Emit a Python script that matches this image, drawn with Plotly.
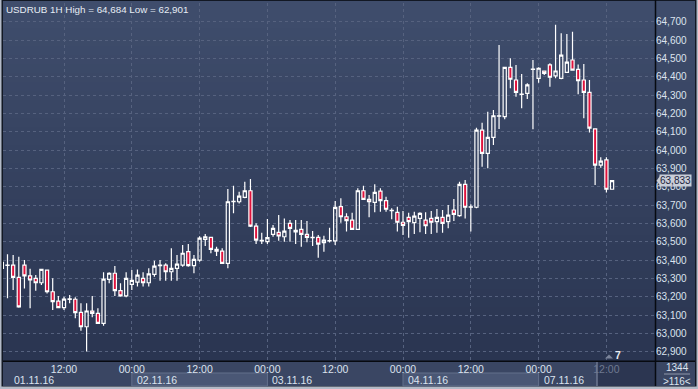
import plotly.graph_objects as go

# ---------------- data ----------------
day_hours = [("01.11", range(1, 24)), ("02.11", range(24)), ("03.11", range(24)),
             ("04.11", range(24)), ("07.11", range(14))]
times = [f"{d} {h:02d}:00" for d, hrs in day_hours for h in hrs]

opens = [63354, 63371, 63372, 63305, 63372, 63314, 63300, 63276, 63345, 63227,
         63176, 63140, 63185, 63186, 63115, 63036, 63122, 63109, 63055, 63295,
         63328, 63233, 63204, 63267, 63280, 63300, 63276, 63322, 63370, 63372,
         63336, 63355, 63372, 63446, 63369, 63400, 63513, 63524, 63458, 63449,
         63382, 63718, 63718, 63742, 63778, 63585, 63505, 63500, 63540, 63551,
         63527, 63600, 63553, 63567, 63540, 63522, 63524, 63495, 63504, 63504,
         63691, 63636, 63618, 63567, 63778, 63731, 63715, 63776, 63724, 63671,
         63660, 63606, 63633, 63604, 63627, 63618, 63627, 63609, 63633, 63609,
         63673, 63642, 63813, 63688, 63688, 64109, 63982, 64069, 64185, 64182,
         64451, 64382, 64305, 64309, 64440, 64391, 64431, 64464, 64405, 64391,
         64424, 64491, 64440, 64382, 64315, 64115, 63918, 63946, 63786]
highs = [63400, 63432, 63427, 63418, 63400, 63352, 63318, 63350, 63346, 63300,
         63204, 63200, 63209, 63197, 63164, 63164, 63204, 63137, 63333, 63333,
         63367, 63273, 63333, 63345, 63349, 63333, 63355, 63396, 63400, 63382,
         63464, 63427, 63482, 63487, 63427, 63530, 63542, 63527, 63473, 63464,
         63787, 63805, 63773, 63827, 63842, 63600, 63549, 63624, 63591, 63645,
         63627, 63618, 63618, 63618, 63613, 63558, 63536, 63533, 63576, 63722,
         63737, 63655, 63658, 63791, 63805, 63755, 63813, 63791, 63745, 63682,
         63691, 63667, 63658, 63664, 63660, 63660, 63667, 63678, 63673, 63700,
         63733, 63827, 63836, 63704, 64122, 64149, 64209, 64218, 64573, 64451,
         64500, 64464, 64415, 64364, 64491, 64451, 64433, 64473, 64684, 64637,
         64633, 64645, 64467, 64469, 64382, 64116, 63960, 63960, 63836]
lows = [63340, 63191, 63236, 63140, 63245, 63137, 63233, 63264, 63218, 63127,
        63137, 63127, 63164, 63082, 63014, 62901, 63088, 63051, 63042, 63273,
        63204, 63200, 63197, 63236, 63255, 63255, 63255, 63309, 63287, 63287,
        63287, 63287, 63364, 63364, 63328, 63390, 63477, 63437, 63422, 63378,
        63355, 63655, 63709, 63737, 63580, 63487, 63487, 63487, 63527, 63505,
        63500, 63500, 63487, 63473, 63497, 63477, 63413, 63445, 63495, 63482,
        63604, 63555, 63565, 63565, 63729, 63633, 63660, 63664, 63664, 63622,
        63555, 63536, 63522, 63542, 63551, 63542, 63542, 63549, 63549, 63573,
        63613, 63636, 63627, 63555, 63682, 63909, 63900, 64027, 64115, 64168,
        64337, 64291, 64228, 64278, 64113, 64367, 64409, 64345, 64391, 64386,
        64422, 64433, 64304, 64173, 64095, 63809, 63904, 63769, 63786]
closes = [63387, 63373, 63305, 63145, 63314, 63291, 63276, 63349, 63227, 63173,
          63140, 63187, 63188, 63113, 63036, 63122, 63109, 63055, 63296, 63328,
          63233, 63204, 63300, 63289, 63318, 63276, 63324, 63367, 63372, 63336,
          63355, 63378, 63437, 63369, 63404, 63519, 63527, 63458, 63448, 63382,
          63718, 63720, 63749, 63778, 63585, 63509, 63507, 63522, 63573, 63531,
          63558, 63573, 63562, 63540, 63524, 63524, 63487, 63509, 63506, 63687,
          63636, 63615, 63567, 63778, 63731, 63718, 63769, 63724, 63677, 63669,
          63606, 63589, 63609, 63640, 63655, 63587, 63606, 63633, 63600, 63645,
          63649, 63813, 63688, 63690, 64109, 63982, 64069, 64187, 64187, 64451,
          64386, 64315, 64303, 64355, 64442, 64446, 64418, 64397, 64431, 64518,
          64479, 64436, 64378, 64315, 64119, 63918, 63940, 63786, 63833]

tick_vals = ["01.11 12:00", "02.11 00:00", "02.11 12:00", "03.11 00:00", "03.11 12:00",
             "04.11 00:00", "04.11 12:00", "07.11 00:00", "07.11 12:00"]
tick_text = ["12:00", "00:00", "12:00", "00:00", "12:00", "00:00", "12:00", "00:00",
             "<span style='color:#6f7990'>12:00</span>"]
date_labels = ["01.11.16", "02.11.16", "03.11.16", "04.11.16", "07.11.16"]
date_anchor = [None, "02.11 00:00", "03.11 00:00", "04.11 00:00", "07.11 00:00"]
price_ticks = list(range(62900, 64701, 100))
title_text = "USDRUB 1H High = 64,684 Low = 62,901"
last_price = 63833
last_price_text = "63,833"

# ---------------- geometry helpers (decoration only) ----------------
WIDTH, HEIGHT = 698, 389
L, R, T, B = 3, 43, 3, 28
PW, PH = WIDTH - L - R, HEIGHT - T - B


def PX(x):
    return (x - L) / PW


def PY(y):
    return (T + PH - y) / PH


def rect(x0, y0, x1, y1, fill, line=None, lw=0):
    return dict(type="rect", xref="paper", yref="paper", layer="below",
                x0=PX(x0), x1=PX(x1), y0=PY(y1), y1=PY(y0),
                fillcolor=fill, line=dict(color=line or fill, width=lw))


def hline(x0, x1, y, color, w=1):
    return dict(type="line", xref="paper", yref="paper", layer="below",
                x0=PX(x0), x1=PX(x1), y0=PY(y), y1=PY(y), line=dict(color=color, width=w))


def vline(x, y0, y1, color, w=1):
    return dict(type="line", xref="paper", yref="paper", layer="below",
                x0=PX(x), x1=PX(x), y0=PY(y0), y1=PY(y1), line=dict(color=color, width=w))


shapes = [rect(1.5, 0, 696.5, 386.5, "#121824")]

# vertical gradient background for plot + price panel
top_c = (63, 77, 108)
bot_c = (42, 53, 81)
nb = 40
y_top, y_bot = 1, 361
for k in range(nb):
    t = k / (nb - 1)
    c = tuple(int(round(top_c[j] + (bot_c[j] - top_c[j]) * t)) for j in range(3))
    ya = y_top + (y_bot - y_top) * k / nb
    yb = y_top + (y_bot - y_top) * (k + 1) / nb + 0.6
    shapes.append(rect(3, ya, 695, min(yb, y_bot), "rgb(%d,%d,%d)" % c))

# bottom time panel
shapes.append(rect(3, 361, 695, 386, "#3a4663"))

cat_index = {t: i for i, t in enumerate(times)}
xr0, xr1 = 0.204, 115.6


def idx_px(i):
    return L + (i - xr0) * PW / (xr1 - xr0)


for lab, anc in zip(date_labels, date_anchor):
    if lab in ("02.11.16", "04.11.16"):
        i0 = cat_index[anc]
        nxt = date_anchor[date_labels.index(lab) + 1]
        i1 = cat_index[nxt]
        shapes.append(rect(idx_px(i0), 373, idx_px(i1), 386, "#4a5775", "#63708c", 1))

# dark region at far right of the time panel
shapes.append(rect(597, 362, 655, 386, "#2c3651"))
shapes.append(vline(597, 362, 386, "#6d7790", 1.5))

# separators
shapes.append(hline(3, 695, 361.3, "#070a10", 1.5))
shapes.append(vline(655.5, 0, 386, "#070a10", 1.5))
shapes.append(hline(664, 690, 374, "#8e97ab", 1))

# small triangle marker near the "7"
shapes.append(dict(type="path", xref="paper", yref="paper", layer="above",
                   path="M %f %f L %f %f L %f %f Z" % (PX(605), PY(358.5), PX(613), PY(358.5), PX(609), PY(354.5)),
                   fillcolor="#7b849a", line=dict(width=0)))
# arrow tip of price label
shapes.append(dict(type="path", xref="paper", yref="y", layer="above",
                   path="M %f %f L %f %f L %f %f Z" % (PX(656.5), last_price, PX(660), last_price + 25,
                                                       PX(660), last_price - 25),
                   fillcolor="#c9ced8", line=dict(width=0)))

fig = go.Figure()
fig.add_trace(go.Candlestick(
    x=times, open=opens, high=highs, low=lows, close=closes,
    increasing=dict(line=dict(color="#ffffff", width=1.2), fillcolor="rgba(0,0,0,0)"),
    decreasing=dict(line=dict(color="#ffffff", width=1.2), fillcolor="#e0123c"),
    whiskerwidth=0, hoverinfo="skip", showlegend=False,
))

font_main = "Liberation Sans, Arial, sans-serif"
ann = [
    dict(text=title_text, xref="paper", yref="paper", x=PX(4), y=PY(9.5),
         xanchor="left", yanchor="middle", showarrow=False,
         font=dict(family=font_main, size=9.8, color="#e6ecf4")),
    dict(text=last_price_text, xref="paper", yref="y", x=PX(659.5), y=last_price,
         xanchor="left", yanchor="middle", showarrow=False, bgcolor="#c9ced8",
         borderpad=0, font=dict(family=font_main, size=10, color="#1b2440")),
    dict(text="<b>7</b>", xref="paper", yref="paper", x=PX(618), y=PY(354.5),
         xanchor="center", yanchor="middle", showarrow=False,
         font=dict(family=font_main, size=10.5, color="#e8ecf2")),
    dict(text="1344", xref="paper", yref="paper", x=PX(677), y=PY(367),
         xanchor="center", yanchor="middle", showarrow=False,
         font=dict(family=font_main, size=10, color="#dce3ee")),
    dict(text=">116<", xref="paper", yref="paper", x=PX(677), y=PY(381),
         xanchor="center", yanchor="middle", showarrow=False,
         font=dict(family=font_main, size=10, color="#dce3ee")),
]
for lab, anc in zip(date_labels, date_anchor):
    xpix = 12 if anc is None else idx_px(cat_index[anc]) + 3
    ann.append(dict(text=lab, xref="paper", yref="paper", x=PX(xpix), y=PY(380),
                    xanchor="left", yanchor="middle", showarrow=False,
                    font=dict(family=font_main, size=10.5, color="#dce3ee")))

fig.update_layout(
    width=WIDTH, height=HEIGHT,
    margin=dict(l=L, r=R, t=T, b=B, pad=0),
    paper_bgcolor="#b3bac7", plot_bgcolor="rgba(0,0,0,0)",
    shapes=shapes, annotations=ann, showlegend=False,
    boxgap=0.2,
    font=dict(family=font_main, size=10, color="#dce3ee"),
    xaxis=dict(type="category", range=[xr0, xr1], rangeslider=dict(visible=False),
               tickmode="array", tickvals=tick_vals, ticktext=tick_text,
               showgrid=True, gridcolor="#56627f", griddash="3px,3px", gridwidth=1,
               ticks="", showline=False, zeroline=False,
               tickfont=dict(family=font_main, size=10.5, color="#dce3ee"),
               fixedrange=True),
    yaxis=dict(side="right", range=[62849.3, 64802.0], tickmode="array",
               tickvals=price_ticks, tickformat=",d",
               showgrid=True, gridcolor="#56627f", griddash="3px,3px", gridwidth=1,
               ticks="", showline=False, zeroline=False,
               tickfont=dict(family=font_main, size=10, color="#dce3ee"),
               fixedrange=True),
)

fig.write_html("out.html", config={"displayModeBar": False, "staticPlot": True},
               post_script="document.body.style.margin='0';document.body.style.overflow='hidden';")
